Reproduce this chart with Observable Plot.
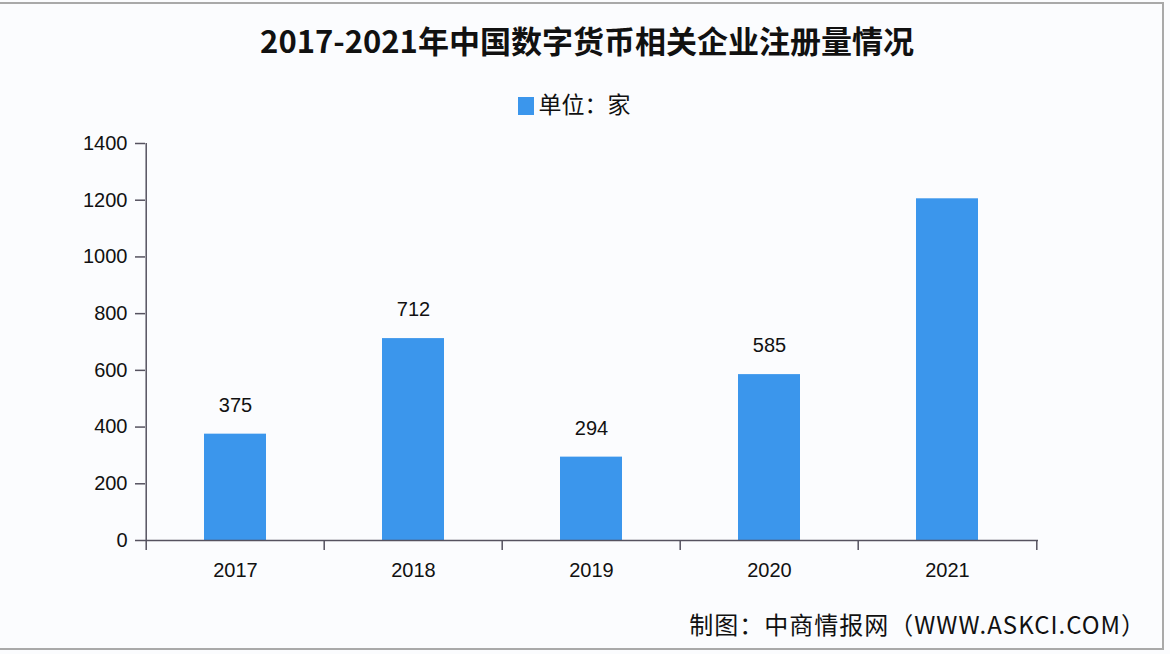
<!DOCTYPE html>
<html>
<head>
<meta charset="utf-8">
<script src="https://cdn.jsdelivr.net/npm/d3@7"></script>
<script src="https://cdn.jsdelivr.net/npm/@observablehq/plot@0.6"></script>
<style>
  html, body { margin: 0; padding: 0; background: #ffffff; }
  #wrap { position: relative; width: 1170px; height: 654px; background: #fbfcfe; overflow: hidden; }
  #border { position: absolute; left: 0; top: 2px; width: 1164px; height: 648px; border: 2px solid #a9a9a9; border-left: none; box-sizing: border-box; pointer-events: none; }
  #title { position: absolute; left: 0; top: 18px; width: 1174px; text-align: center; font-family: "Noto Sans CJK SC", sans-serif; font-weight: 700; font-size: 31px; color: #111; line-height: 44px; }
  #legend { position: absolute; left: 0; top: 86px; width: 1148px; text-align: center; font-family: "Noto Sans CJK SC", sans-serif; font-size: 23px; color: #111; line-height: 34px; }
  #legend .sw { display: inline-block; width: 16px; height: 18px; background: #3b96ec; vertical-align: -2px; margin-right: 5px; }
  #chart { position: absolute; left: 0; top: 126px; }
  #caption { position: absolute; right: 24px; top: 605px; font-family: "Noto Sans CJK SC", sans-serif; font-size: 24px; letter-spacing: 1px; color: #111; line-height: 38px; }
</style>
</head>
<body>
<div id="wrap">
  <div id="title">2017-2021年中国数字货币相关企业注册量情况</div>
  <div id="legend"><span class="sw"></span>单位：家</div>
  <div id="chart"></div>
  <div id="caption">制图：中商情报网（WWW.ASKCI.COM）</div>
  <div id="border"></div>
</div>
<script>
const years = ["2017", "2018", "2019", "2020", "2021"];
const values = [375, 712, 294, 585, 1205];
const labeled = [true, true, true, true, false];
const yTicks = [0, 200, 400, 600, 800, 1000, 1200, 1400];

const data = years.map((y, i) => ({year: y, value: values[i], labeled: labeled[i]}));

const width = 1170, height = 470;
const marginLeft = 145, marginRight = 132, marginTop = 17, marginBottom = 56;
const step = (width - marginLeft - marginRight) / years.length;
const axisColor = "#55525f";

const plot = Plot.plot({
  width, height, marginLeft, marginRight, marginTop, marginBottom,
  style: {background: "transparent", fontFamily: "'Liberation Sans', Arial, sans-serif", color: "#111"},
  x: {domain: years, paddingInner: 0.65, paddingOuter: 0.325, axis: null, label: null},
  y: {domain: [0, 1400], axis: null, label: null},
  marks: [
    Plot.barY(data, {x: "year", y: "value", fill: "#3b96ec"}),
    // y axis line
    Plot.ruleX([years[0]], {x: d => d, dx: -step / 2, y1: 0, y2: 1400, stroke: axisColor, strokeWidth: 1.5}),
    // x axis line across the full frame
    Plot.ruleY([0], {stroke: axisColor, strokeWidth: 1.5}),
    // x boundary ticks
    Plot.ruleX(years, {x: d => d, dx: -step / 2, y1: 0, y2: -35, stroke: axisColor, strokeWidth: 1.5}),
    Plot.ruleX([years[years.length - 1]], {x: d => d, dx: step / 2, y1: 0, y2: -35, stroke: axisColor, strokeWidth: 1.5}),
    Plot.axisY({ticks: yTicks, tickSize: 10, tickPadding: 8, fontSize: 20, stroke: axisColor, strokeWidth: 1.5, tickFormat: d => String(d), label: null}),
    Plot.axisX({tickSize: 0, tickPadding: 22, fontSize: 20, label: null, fontFamily: "'Liberation Sans Narrow', 'Liberation Sans', sans-serif"}),
    Plot.text(data.filter(d => d.labeled), {x: "year", y: "value", text: d => String(d.value), dy: -29, fontSize: 20, fill: "#111"})
  ]
});

document.getElementById("chart").appendChild(plot);
</script>
</body>
</html>
